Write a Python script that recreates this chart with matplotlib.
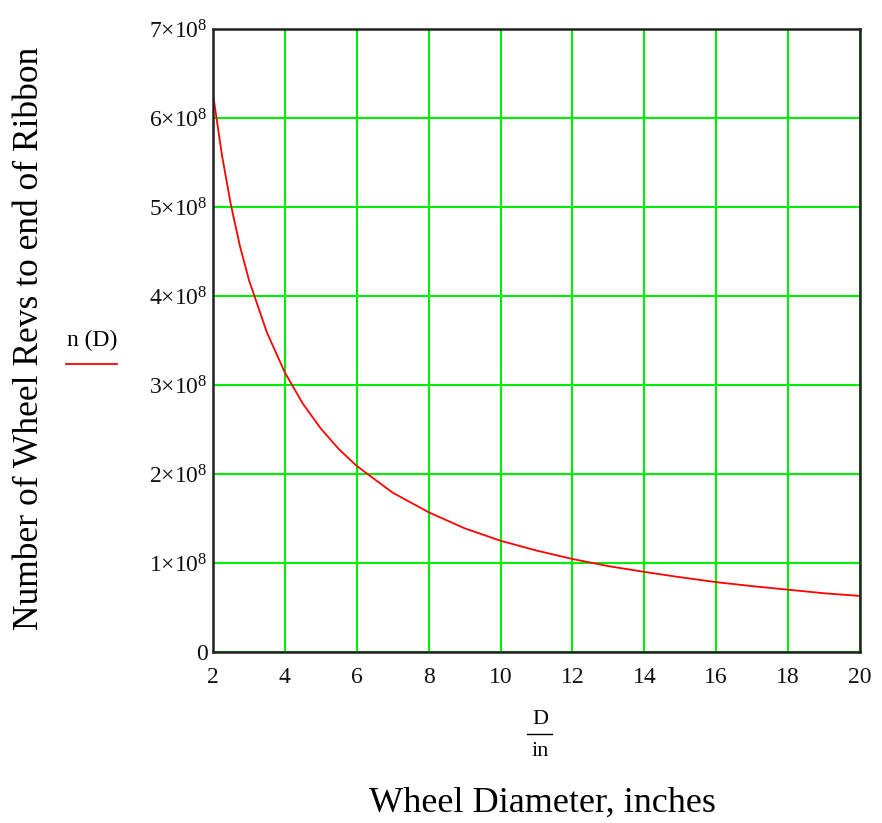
import matplotlib
matplotlib.use("Agg")
import matplotlib.pyplot as plt
import numpy as np

plt.rcParams['font.family'] = ['Liberation Serif', 'DejaVu Serif']
plt.rcParams['mathtext.fontset'] = 'custom'
plt.rcParams['mathtext.rm'] = 'Liberation Serif'
plt.rcParams['mathtext.it'] = 'Liberation Serif:italic'

diameter = [2.0, 2.25, 2.5, 2.75, 3.0, 3.5, 4.0, 4.5, 5.0, 5.5, 6.0, 7.0, 8.0, 9.0,
            10.0, 11.0, 12.0, 13.0, 14.0, 15.0, 16.0, 17.0, 18.0, 19.0, 20.0]
revs = [6.27e8, 5.58e8, 5.02e8, 4.56e8, 4.18e8, 3.59e8, 3.14e8, 2.79e8, 2.51e8, 2.28e8,
        2.09e8, 1.79e8, 1.57e8, 1.39e8, 1.25e8, 1.14e8, 1.045e8, 0.965e8, 0.90e8,
        0.84e8, 0.785e8, 0.74e8, 0.70e8, 0.66e8, 0.63e8]

x_ticks = [2, 4, 6, 8, 10, 12, 14, 16, 18, 20]
y_ticks = [0, 1e8, 2e8, 3e8, 4e8, 5e8, 6e8, 7e8]
y_tick_labels = ['0'] + [r'%d$\times$10$^{8}$' % k for k in range(1, 8)]

fig = plt.figure(figsize=(8.82, 8.23), dpi=100)
ax = fig.add_axes([213/882, 1-652/823, (860-213)/882, (652-29)/823])

ax.plot(diameter, revs, color='#ff0000', lw=1.3, zorder=3)

ax.set_xlim(2, 20)
ax.set_ylim(0, 7e8)
ax.set_xticks(x_ticks)
ax.set_xticklabels([str(t) for t in x_ticks])
ax.set_yticks(y_ticks)
ax.set_yticklabels(y_tick_labels)
ax.tick_params(length=0, labelsize=17, colors='#111111')
ax.tick_params(axis='x', pad=11)
ax.tick_params(axis='y', pad=4)
for lbl in ax.get_yticklabels():
    lbl.set_va('center_baseline')
ax.grid(True, color='#00ee00', lw=1.5, zorder=1)
for s in ax.spines.values():
    s.set_color('#222222')
    s.set_linewidth(1.8)
    s.set_zorder(4)

# Y axis label
fig.text(30/882, 1-338/823, 'Number of Wheel Revs to end of Ribbon', rotation=90,
         ha='center', va='center', fontsize=25.5)

# legend-like label
fig.text(92/882, 1-340/823, 'n (D)', ha='center', va='center', fontsize=17)
fig.add_artist(plt.Line2D([66/882, 117/882], [1-364/823, 1-364/823], color='#ff0000', lw=1.3))

# D / in fraction
fig.text(540/882, 1-720/823, 'D', ha='center', va='center', fontsize=16)
fig.add_artist(plt.Line2D([527/882, 552/882], [1-734/823, 1-734/823], color='black', lw=1.0))
fig.text(540/882, 1-751/823, 'in', ha='center', va='center', fontsize=16)

fig.text(542/882, 1-803/823, 'Wheel Diameter, inches', ha='center', va='center', fontsize=26)

fig.savefig('out.png', dpi=100)
